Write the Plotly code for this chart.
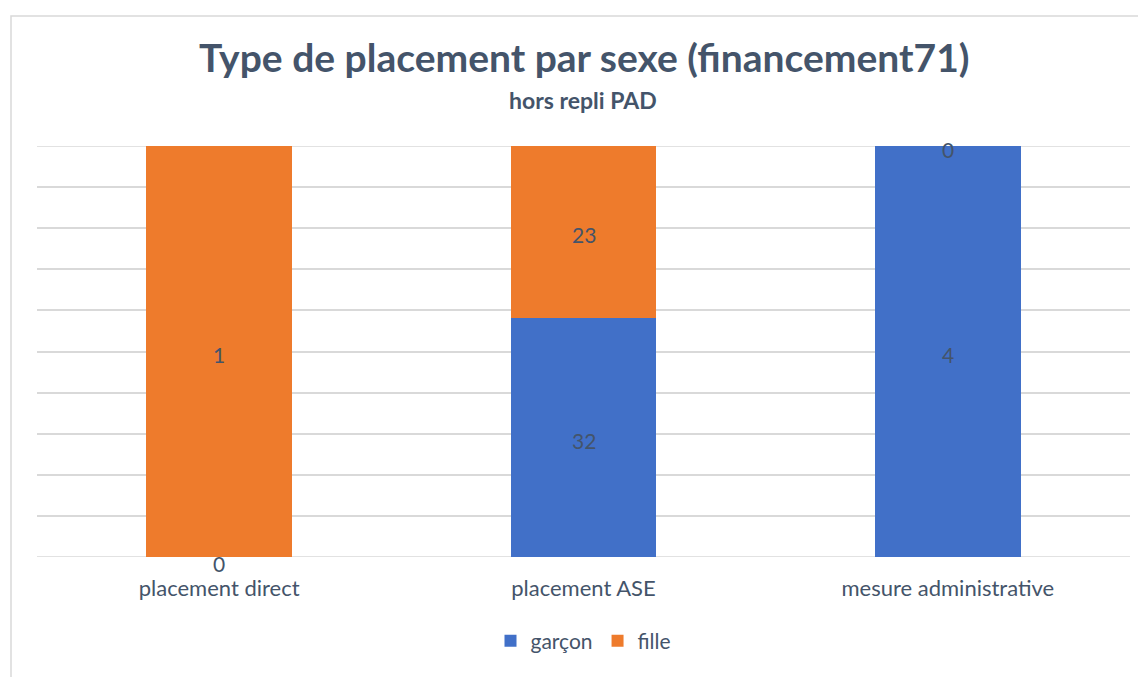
import plotly.graph_objects as go

categories = ["placement direct", "placement ASE", "mesure administrative"]
garcon = [0, 32, 4]
fille = [1, 23, 0]
series_names = ["garçon", "fille"]
title_text = "Type de placement par sexe (financement71)"
subtitle_text = "hors repli PAD"

totals = [g + f for g, f in zip(garcon, fille)]
g_pct = [100 * g / t for g, t in zip(garcon, totals)]
f_pct = [100 * f / t for f, t in zip(fille, totals)]

BLUE = "#4170C8"
ORANGE = "#EE7B2C"
FONT = "Lato"
TXT = "#44546A"
GRID = "#D9D9D9"

OFF = 8  # page body margin offset
W, H = 1146, 677
L = 37 - OFF
T = 146 - OFF
R = W - (1130 - OFF)
B = H - (557 - OFF)
pw, ph = W - L - R, H - T - B


def px(x):
    return (x - OFF - L) / pw


def py(y):
    return (H - B - (y - OFF)) / ph


fig = go.Figure()
fig.add_trace(go.Bar(x=categories, y=g_pct, name=series_names[0], marker_color=BLUE,
                     marker_line_width=0, hoverinfo="skip"))
fig.add_trace(go.Bar(x=categories, y=f_pct, name=series_names[1], marker_color=ORANGE,
                     marker_line_width=0, hoverinfo="skip"))

annotations = [
    dict(text="<b>" + title_text + "</b>", xref="paper", yref="paper",
         x=px(584), y=py(57), xanchor="center", yanchor="middle", showarrow=False,
         font=dict(family=FONT, size=39, color=TXT)),
    dict(text="<b>" + subtitle_text + "</b>", xref="paper", yref="paper",
         x=px(583), y=py(100), xanchor="center", yanchor="middle", showarrow=False,
         font=dict(family=FONT, size=23, color=TXT)),
]

# data labels at segment midpoints
for c, g, f, gp, fp in zip(categories, garcon, fille, g_pct, f_pct):
    for val, mid in ((g, gp / 2), (f, gp + fp / 2)):
        annotations.append(dict(
            x=c, y=mid, xref="x", yref="y", text=str(val), showarrow=False,
            xanchor="center", yanchor="middle", yshift=-3 if mid > 0 else -6,
            font=dict(family=FONT, size=21, color=TXT)))

fig.update_layout(
    width=W, height=H,
    margin=dict(l=L, r=R, t=T, b=B),
    barmode="stack", bargap=0.6,
    paper_bgcolor="white", plot_bgcolor="white",
    font=dict(family=FONT, color=TXT),
    showlegend=True,
    legend=dict(orientation="h", x=0.5, xanchor="center", y=py(641), yanchor="middle",
                font=dict(family=FONT, size=21, color=TXT), traceorder="normal",
                itemwidth=30),
    xaxis=dict(showgrid=False, showline=False, ticks="outside", ticklen=12,
               tickcolor="rgba(0,0,0,0)", tickfont=dict(family=FONT, size=22, color=TXT),
               zeroline=False),
    yaxis=dict(range=[0, 100], dtick=10, showticklabels=False, showgrid=True,
               gridcolor=GRID, gridwidth=1.5, zeroline=False, showline=False),
    shapes=[dict(type="rect", xref="paper", yref="paper",
                 x0=px(3 + OFF), x1=px(1146), y0=py(690), y1=py(8 + OFF),
                 line=dict(color=GRID, width=1.5), layer="below")],
    annotations=annotations,
)
fig.add_shape(type="line", xref="paper", yref="y", x0=0, x1=1, y0=0, y1=0,
              line=dict(color=GRID, width=1.5), layer="below")
fig.add_shape(type="line", xref="paper", yref="y", x0=0, x1=1, y0=100, y1=100,
              line=dict(color=GRID, width=1.5), layer="below")

fig.write_html("out.html")
